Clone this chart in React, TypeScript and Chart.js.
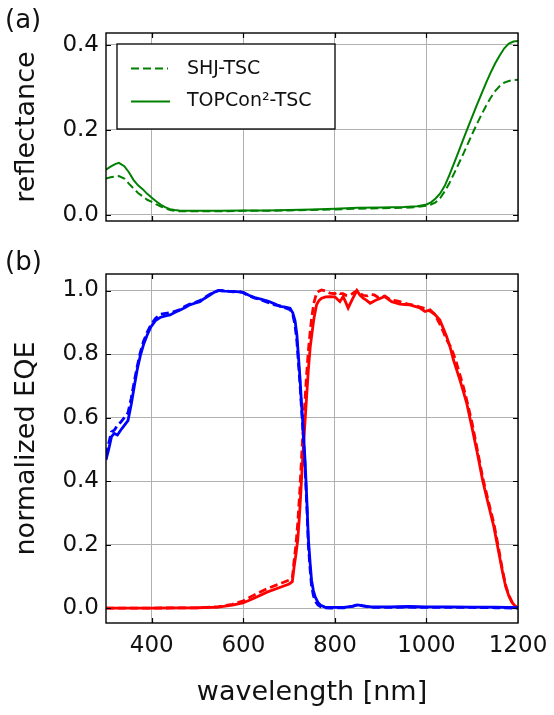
import React, { useEffect, useRef } from "react";
import { Chart, registerables } from "chart.js";

Chart.register(...registerables);

// ---------- data ----------
const xTickVals = [400, 600, 800, 1000, 1200];
const reflTickVals = [0.0, 0.2, 0.4];
const eqeTickVals = [0.0, 0.2, 0.4, 0.6, 0.8, 1.0];

// (a) reflectance
const reflWl = [300, 310, 320, 328, 340, 350, 360, 370, 380, 390, 400, 410, 420, 430, 440, 450, 460, 480, 500, 550, 600, 650, 700, 750, 800, 850, 900, 950, 980, 1000, 1010, 1020, 1030, 1040, 1050, 1060, 1070, 1080, 1090, 1100, 1110, 1120, 1130, 1140, 1150, 1160, 1170, 1180, 1190, 1200];
const reflShj = [0.085, 0.088, 0.09, 0.091, 0.085, 0.073, 0.062, 0.051, 0.043, 0.035, 0.03, 0.024, 0.019, 0.015, 0.011, 0.009, 0.008, 0.008, 0.008, 0.008, 0.009, 0.009, 0.01, 0.011, 0.012, 0.014, 0.015, 0.016, 0.018, 0.021, 0.024, 0.029, 0.039, 0.055, 0.074, 0.096, 0.119, 0.142, 0.166, 0.19, 0.213, 0.235, 0.256, 0.275, 0.291, 0.303, 0.311, 0.315, 0.317, 0.318];
const reflTopcon = [0.106, 0.113, 0.119, 0.122, 0.114, 0.1, 0.082, 0.069, 0.06, 0.049, 0.04, 0.031, 0.023, 0.017, 0.013, 0.011, 0.01, 0.009, 0.009, 0.009, 0.01, 0.01, 0.011, 0.012, 0.014, 0.016, 0.017, 0.018, 0.02, 0.024, 0.029, 0.038, 0.05, 0.068, 0.093, 0.12, 0.148, 0.176, 0.204, 0.231, 0.258, 0.284, 0.31, 0.334, 0.356, 0.375, 0.392, 0.403, 0.408, 0.409];

// (b) normalized EQE, top cell (blue)
const topWl = [300, 306, 312, 318, 325, 332, 340, 348, 355, 362, 368, 375, 382, 390, 398, 408, 418, 430, 440, 452, 462, 472, 483, 494, 505, 515, 527, 537, 547, 560, 578, 590, 600, 612, 625, 640, 655, 668, 680, 692, 702, 708, 713, 717, 720, 724, 727, 731, 735, 739, 742, 746, 749, 753, 757, 763, 769, 778, 790, 820, 840, 850, 860, 880, 920, 960, 1000, 1050, 1100, 1150, 1200];
const topSolid = [0.467, 0.5, 0.54, 0.55, 0.545, 0.56, 0.575, 0.59, 0.64, 0.7, 0.75, 0.795, 0.83, 0.86, 0.885, 0.905, 0.915, 0.92, 0.923, 0.932, 0.939, 0.946, 0.955, 0.96, 0.965, 0.975, 0.986, 0.995, 1.0, 0.998, 0.997, 0.996, 0.994, 0.985, 0.978, 0.972, 0.966, 0.958, 0.95, 0.948, 0.944, 0.93, 0.905, 0.86, 0.8, 0.72, 0.645, 0.56, 0.46, 0.33, 0.22, 0.14, 0.088, 0.055, 0.035, 0.018, 0.009, 0.003, 0.002, 0.002, 0.006, 0.01, 0.007, 0.004, 0.004, 0.005, 0.004, 0.004, 0.003, 0.003, 0.001];
const topDashed = [0.48, 0.52, 0.555, 0.56, 0.575, 0.585, 0.6, 0.615, 0.66, 0.715, 0.76, 0.805, 0.84, 0.868, 0.892, 0.912, 0.925, 0.928, 0.93, 0.935, 0.94, 0.95, 0.957, 0.962, 0.968, 0.977, 0.988, 0.996, 1.0, 0.999, 0.996, 0.997, 0.993, 0.983, 0.976, 0.97, 0.962, 0.955, 0.952, 0.945, 0.94, 0.925, 0.89, 0.84, 0.78, 0.7, 0.63, 0.54, 0.44, 0.31, 0.2, 0.12, 0.07, 0.04, 0.022, 0.01, 0.004, 0.001, 0.0, 0.001, 0.006, 0.012, 0.008, 0.002, 0.002, 0.003, 0.002, 0.002, 0.002, 0.001, 0.0];

// (b) normalized EQE, bottom cell (red)
const botWl = [300, 400, 500, 545, 576, 599, 622, 653, 684, 700, 707, 711, 715, 719, 723, 726, 730, 734, 738, 742, 746, 749, 754, 760, 765, 771, 780, 789, 800, 806, 811, 818, 824, 829, 838, 848, 855, 862, 870, 877, 886, 895, 909, 917, 924, 935, 942, 953, 964, 975, 986, 997, 1008, 1018, 1029, 1037, 1044, 1052, 1059, 1066, 1073, 1081, 1088, 1100, 1112, 1123, 1135, 1147, 1158, 1166, 1173, 1180, 1187, 1194, 1200];
const botSolid = [0, 0, 0.001, 0.003, 0.009, 0.016, 0.03, 0.051, 0.067, 0.076, 0.083, 0.131, 0.17, 0.216, 0.3, 0.375, 0.48, 0.57, 0.66, 0.75, 0.82, 0.855, 0.91, 0.955, 0.968, 0.976, 0.98, 0.981, 0.98, 0.972, 0.965, 0.981, 0.962, 0.945, 0.972, 1.0, 0.985, 0.976, 0.968, 0.96, 0.967, 0.973, 0.981, 0.972, 0.965, 0.96, 0.957, 0.956, 0.955, 0.95, 0.945, 0.934, 0.939, 0.925, 0.908, 0.88, 0.855, 0.82, 0.782, 0.75, 0.719, 0.68, 0.645, 0.565, 0.482, 0.4, 0.328, 0.258, 0.175, 0.115, 0.068, 0.038, 0.018, 0.006, 0];
const botDashed = [0, 0, 0.001, 0.004, 0.012, 0.022, 0.04, 0.062, 0.079, 0.088, 0.095, 0.15, 0.2, 0.27, 0.36, 0.44, 0.55, 0.64, 0.73, 0.81, 0.87, 0.91, 0.96, 0.992, 0.998, 1.002, 0.998, 0.992, 0.99, 0.995, 0.99, 0.99, 0.985, 0.985, 0.99, 1.0, 0.99, 0.985, 0.983, 0.988, 0.986, 0.978, 0.983, 0.975, 0.97, 0.967, 0.965, 0.96, 0.956, 0.953, 0.948, 0.943, 0.935, 0.925, 0.895, 0.87, 0.845, 0.825, 0.8, 0.77, 0.735, 0.695, 0.655, 0.58, 0.492, 0.41, 0.338, 0.268, 0.185, 0.12, 0.072, 0.04, 0.019, 0.005, 0];

const legendLabels = ["SHJ-TSC", "TOPCon\u00B2-TSC"];

// ---------- styles ----------
const FONT = "'DejaVu Sans', 'Liberation Sans', sans-serif";
const GREEN = "#008000";
const BLUE = "#0000ff";
const RED = "#ff0000";
const GRID = "#b0b0b0";
const DASH = [8, 4];
const W = 554;

const pts = (xs: number[], ys: number[]) => xs.map((x, i) => ({ x, y: ys[i] }));

type TextSpec = { text: string; x: number; y: number; size: number; rotate?: boolean; align?: CanvasTextAlign; baseline?: CanvasTextBaseline };

function makeFramePlugin(id: string, xt: number[], yt: number[], texts: TextSpec[], legend: boolean) {
  return {
    id,
    afterDatasetsDraw(chart: any) {
      if (!legend) return;
      const ctx = chart.ctx as CanvasRenderingContext2D;
      ctx.save();
      const bx = 117, by = 44, bw = 218, bh = 85;
      ctx.fillStyle = "#ffffff";
      ctx.fillRect(bx, by, bw, bh);
      ctx.strokeStyle = "#000";
      ctx.lineWidth = 1.3;
      ctx.strokeRect(bx, by, bw, bh);
      ctx.strokeStyle = GREEN;
      ctx.lineWidth = 2;
      ctx.setLineDash(DASH);
      ctx.beginPath();
      ctx.moveTo(131, 68.5);
      ctx.lineTo(168, 68.5);
      ctx.stroke();
      ctx.setLineDash([]);
      ctx.beginPath();
      ctx.moveTo(131, 101.5);
      ctx.lineTo(170, 101.5);
      ctx.stroke();
      ctx.fillStyle = "#111";
      ctx.font = `19px ${FONT}`;
      ctx.textAlign = "left";
      ctx.textBaseline = "middle";
      ctx.fillText(legendLabels[0], 187, 69);
      ctx.fillText(legendLabels[1], 187, 101);
      ctx.restore();
    },
    afterDraw(chart: any) {
      const ctx = chart.ctx as CanvasRenderingContext2D;
      const { left, right, top, bottom } = chart.chartArea;
      const xs = chart.scales.x;
      const ys = chart.scales.y;
      ctx.save();
      ctx.strokeStyle = "#000";
      ctx.lineWidth = 1.2;
      ctx.beginPath();
      xt.forEach((v) => {
        const px = Math.round(xs.getPixelForValue(v)) + 0.5;
        if (px > left + 2 && px < right - 2) {
          ctx.moveTo(px, bottom);
          ctx.lineTo(px, bottom - 5);
          ctx.moveTo(px, top);
          ctx.lineTo(px, top + 5);
        }
      });
      yt.forEach((v) => {
        const py = Math.round(ys.getPixelForValue(v)) + 0.5;
        if (py > top + 2 && py < bottom - 2) {
          ctx.moveTo(left, py);
          ctx.lineTo(left + 5, py);
          ctx.moveTo(right, py);
          ctx.lineTo(right - 5, py);
        }
      });
      ctx.stroke();
      ctx.lineWidth = 1.4;
      ctx.strokeRect(left, top, right - left, bottom - top);
      ctx.fillStyle = "#111";
      texts.forEach((t) => {
        ctx.save();
        ctx.font = `${t.size}px ${FONT}`;
        ctx.textAlign = t.align || "center";
        ctx.textBaseline = t.baseline || "middle";
        ctx.translate(t.x, t.y);
        if (t.rotate) ctx.rotate(-Math.PI / 2);
        ctx.fillText(t.text, 0, 0);
        ctx.restore();
      });
      ctx.restore();
    },
  };
}

function xScale(showLabels: boolean, height: number) {
  return {
    type: "linear" as const,
    min: 300,
    max: 1200,
    afterBuildTicks: (s: any) => {
      s.ticks = xTickVals.map((v) => ({ value: v }));
    },
    afterFit: (s: any) => {
      s.height = height;
      s.paddingLeft = 0;
      s.paddingRight = 0;
    },
    ticks: {
      display: showLabels,
      color: "#111",
      padding: 9,
      maxRotation: 0,
      font: { family: FONT, size: 23 },
      callback: (v: any) => String(v),
    },
    grid: { color: GRID, lineWidth: 1, drawTicks: false },
    border: { display: false },
  };
}

function yScale(min: number, max: number, tv: number[]) {
  return {
    type: "linear" as const,
    min,
    max,
    afterBuildTicks: (s: any) => {
      s.ticks = tv.map((v) => ({ value: v }));
    },
    afterFit: (s: any) => {
      s.width = 106;
      s.paddingTop = 0;
      s.paddingBottom = 0;
    },
    ticks: {
      color: "#111",
      padding: 7,
      font: { family: FONT, size: 23 },
      callback: (v: any) => Number(v).toFixed(1),
    },
    grid: { color: GRID, lineWidth: 1, drawTicks: false },
    border: { display: false },
  };
}

const lineDs = (label: string, xs: number[], ys: number[], color: string, dashed: boolean, width: number) => ({
  label,
  data: pts(xs, ys),
  borderColor: color,
  backgroundColor: color,
  borderWidth: width,
  borderDash: dashed ? DASH : [],
  pointRadius: 0,
  fill: false,
  tension: 0,
});

export default function App() {
  const c1 = useRef<HTMLCanvasElement>(null);
  const c2 = useRef<HTMLCanvasElement>(null);

  useEffect(() => {
    const ch1 = new Chart(c1.current as HTMLCanvasElement, {
      type: "line",
      data: {
        datasets: [
          lineDs(legendLabels[0], reflWl, reflShj, GREEN, true, 2),
          lineDs(legendLabels[1], reflWl, reflTopcon, GREEN, false, 2),
        ],
      },
      options: {
        animation: false,
        responsive: false,
        devicePixelRatio: 1,
        layout: { padding: { left: 0, right: 36, top: 33, bottom: 29 } },
        plugins: { legend: { display: false }, tooltip: { enabled: false } },
        scales: {
          x: xScale(false, 0) as any,
          y: yScale(-0.015, 0.428, reflTickVals) as any,
        },
      },
      plugins: [
        makeFramePlugin(
          "frameA",
          xTickVals,
          reflTickVals,
          [
            { text: "(a)", x: 5, y: 28, size: 26, align: "left", baseline: "alphabetic" },
            { text: "reflectance", x: 27, y: 127, size: 27, rotate: true },
          ],
          true
        ),
      ],
    });

    const ch2 = new Chart(c2.current as HTMLCanvasElement, {
      type: "line",
      data: {
        datasets: [
          lineDs("top dashed", topWl, topDashed, BLUE, true, 2.8),
          lineDs("top solid", topWl, topSolid, BLUE, false, 2.8),
          lineDs("bottom dashed", botWl, botDashed, RED, true, 2.8),
          lineDs("bottom solid", botWl, botSolid, RED, false, 2.8),
        ],
      },
      options: {
        animation: false,
        responsive: false,
        devicePixelRatio: 1,
        layout: { padding: { left: 0, right: 36, top: 24, bottom: 0 } },
        plugins: { legend: { display: false }, tooltip: { enabled: false } },
        scales: {
          x: xScale(true, 92) as any,
          y: yScale(-0.047, 1.052, eqeTickVals) as any,
        },
      },
      plugins: [
        makeFramePlugin(
          "frameB",
          xTickVals,
          eqeTickVals,
          [
            { text: "(b)", x: 5, y: 20, size: 26, align: "left", baseline: "alphabetic" },
            { text: "normalized EQE", x: 27, y: 198.5, size: 27, rotate: true },
            { text: "wavelength [nm]", x: 312, y: 443, size: 27 },
          ],
          false
        ),
      ],
    });

    return () => {
      ch1.destroy();
      ch2.destroy();
    };
  }, []);

  return (
    <div style={{ position: "absolute", left: 0, top: 0, width: W, height: 715, background: "#fff" }}>
      <canvas ref={c1} width={W} height={250} style={{ position: "absolute", left: 0, top: 0, width: W, height: 250 }} />
      <canvas ref={c2} width={W} height={465} style={{ position: "absolute", left: 0, top: 250, width: W, height: 465 }} />
    </div>
  );
}
